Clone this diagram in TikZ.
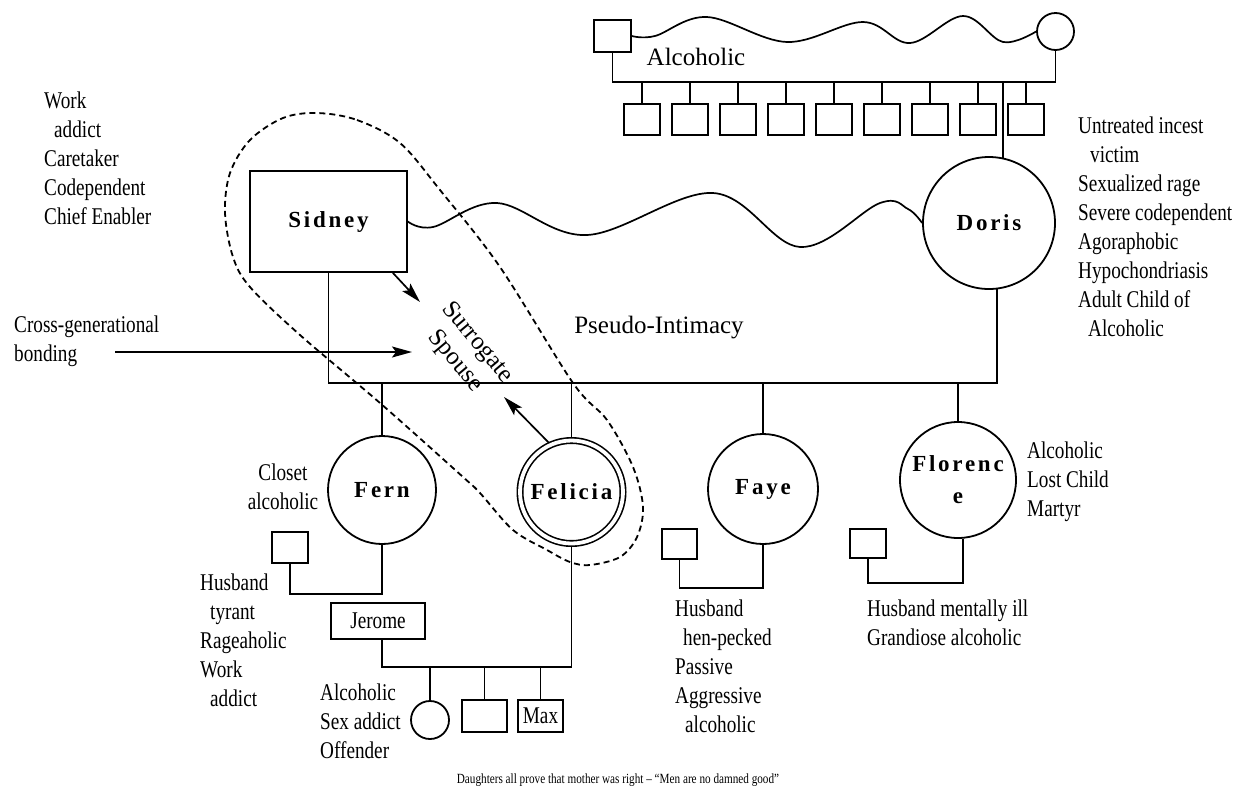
\documentclass[tikz,border=0pt]{standalone}
\usepackage{fontspec}
\setmainfont{Liberation Serif}
\newfontfamily\lab[FakeStretch=0.8]{Liberation Serif}
\newfontfamily\nmf[LetterSpace=12]{Liberation Serif}
\usetikzlibrary{arrows.meta}
\tikzset{
 person/.style={circle, draw, line width=1.8pt, inner sep=0pt},
 male/.style={rectangle, draw, line width=1.7pt, inner sep=0pt, minimum width=36pt, minimum height=31pt},
 txt/.style={align=left, anchor=west, inner sep=0pt, font=\lab\fontsize{24}{29}\selectfont},
 bigtxt/.style={inner sep=0pt, font=\fontsize{25}{29}\selectfont},
 pname/.style={font=\nmf\bfseries\fontsize{23}{32}\selectfont, align=center},
 arr/.style={line width=1.7pt, -{Stealth[length=20pt,width=11pt,inset=4pt]}},
 link/.style={line width=1.7pt},
 dashloop/.style={line width=1.8pt, dash pattern=on 6pt off 4pt},
}
\begin{document}
\begin{tikzpicture}[x=1pt,y=-1pt]
\useasboundingbox (0,0) rectangle (1238,796);
% top family
\node[male, minimum width=37pt, minimum height=32pt] (gf) at (612.5,36) {};
\node[person, minimum size=37pt] (gm) at (1055.5,31.5) {};
\node[bigtxt] (alc) at (696,57) {Alcoholic};
\coordinate (tb) at (800,82);
\draw[link] (gf.south) |- (tb) -| (gm.south);
\draw[link] plot[smooth, tension=0.6] coordinates {(gf.east) (655,36) (707,17) (787,42) (863,22) (910,43) (963,16) (1003,42) (gm.west)};
\foreach \i/\x in {1/642,2/690,3/738,4/786,5/834,6/882,7/930,8/978,9/1026}{
  \node[male] (k\i) at (\x,119.5) {};
  \draw[link] (k\i.north) -- (k\i.north |- tb);
}
% parents
\node[person, minimum size=132pt, pname] (Doris) at (989,223) {Doris};
\draw[link] (Doris.78 |- tb) -- (Doris.78);
\node[rectangle, draw, line width=1.7pt, minimum width=157pt, minimum height=101pt, pname] (Sidney) at (328.5,221.5) {Sidney};
\draw[link] plot[smooth, tension=0.6] coordinates {(Sidney.east) (433,227) (497,203) (587,235) (713,193) (800,247) (880,203) (908,209) (Doris.west)};
\coordinate (bar) at (600,383);
\draw[link] (Sidney.south) |- (Doris.-83 |- bar) -- (Doris.-83);
% daughters
\node[person, minimum size=108pt, pname] (Fern) at (382,490) {Fern};
\node[person, minimum size=103pt, double, double distance=3.8pt, line width=1.6pt, outer sep=3.5pt, pname] (Felicia) at (571.5,492) {Felicia};
\node[person, minimum size=110pt, pname] (Faye) at (763,489) {Faye};
\node[person, minimum size=116pt, pname] (Florence) at (958,480) {Florenc\\e};
\foreach \n in {Fern,Felicia,Faye,Florence} \draw[link] (\n.north) -- (\n.north |- bar);
% Fern's husband
\node[male] (fh) at (290,547.5) {};
\draw[link] (Fern.south) -- ++(0,49) -| (fh.south);
% Jerome and Felicia's children
\node[rectangle, draw, line width=1.7pt, minimum width=94pt, minimum height=36pt, inner sep=0pt, font=\lab\fontsize{24}{29}\selectfont] (Jerome) at (378,621) {Jerome};
\coordinate (kb) at (500,667);
\draw[link] ([xshift=4pt]Jerome.south) |- (Felicia.south |- kb) -- (Felicia.south);
\node[person, minimum size=38pt] (c1) at (430,720) {};
\node[male, minimum width=45pt, minimum height=32pt] (c2) at (484.5,716) {};
\node[male, minimum width=45pt, minimum height=32pt, font=\lab\fontsize{24}{29}\selectfont] (Max) at (540.5,716) {Max};
\foreach \n in {c1,c2,Max} \draw[link] (\n.north) -- (\n.north |- kb);
% Faye's husband
\node[male, minimum width=35pt, minimum height=30pt] (yh) at (679.5,544) {};
\draw[link] (Faye.south) -- ++(0,43) -| (yh.south);
% Florence's husband
\node[male, minimum width=36pt, minimum height=29pt] (rh) at (868,543.5) {};
\draw[link] (Florence.-85) -- ++(0,44) -| (rh.south);
% arrows
\coordinate (sa) at (420,302);
\draw[arr] ([xshift=-15pt]Sidney.south east) -- (sa);
\coordinate (fa) at (504,397);
\draw[arr] (Felicia.115) -- (fa);
\coordinate (cs) at (115,352);
\coordinate (ce) at (412,352);
\draw[arr] (cs) -- (ce);
% dashed loop
\draw[dashloop] plot[smooth cycle, tension=0.55] coordinates {(317,113) (357,120) (400,143) (440,190) (500,267) (573,383) (607,420) (633,467) (643,507) (637,537) (620,557) (590,565) (570,562) (547,550) (513,530) (480,493) (463,477) (380,403) (300,335) (250,287) (233,257) (225,213) (230,173) (250,140) (283,118)};
% texts
\node[txt] (work) at (44,158) {Work\\\hspace*{10pt}addict\\Caretaker\\Codependent\\Chief Enabler};
\node[txt] (dlist) at (1078,226.5) {Untreated incest\\\hspace*{12pt}victim\\Sexualized rage\\Severe codependent\\Agoraphobic\\Hypochondriasis\\Adult Child of\\\hspace*{10pt}Alcoholic};
\node[txt] (cross) at (14,341) {Cross-generational\\bonding};
\node[txt, align=center, anchor=center] (closet) at (283,487) {Closet\\alcoholic};
\node[txt] (fhtxt) at (200,640.5) {Husband\\\hspace*{10pt}tyrant\\Rageaholic\\Work\\\hspace*{10pt}addict};
\node[txt] (ktxt) at (320,721.5) {Alcoholic\\Sex addict\\Offender};
\node[txt] (yhtxt) at (675,666) {Husband\\\hspace*{8pt}hen-pecked\\Passive\\Aggressive\\\hspace*{10pt}alcoholic};
\node[txt] (rhtxt) at (867,622.5) {Husband mentally ill\\Grandiose alcoholic};
\node[txt] (fltxt) at (1027,482) {Alcoholic\\Lost Child\\Martyr};
\node[bigtxt] (pi) at (659,328) {Pseudo-Intimacy};
\node[bigtxt, align=center, rotate=-50] (ss) at (466,352) {Surrogate\\Spouse};
\node[inner sep=0pt, font=\lab\fontsize{14}{18}\selectfont] (cap) at (618,780) {Daughters all prove that mother was right – “Men are no damned good”};
\end{tikzpicture}
\end{document}
